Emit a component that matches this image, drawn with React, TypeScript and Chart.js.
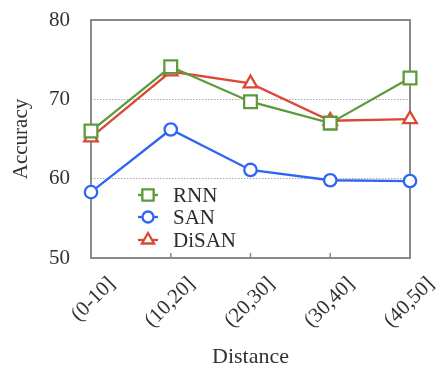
import React, { useEffect, useRef } from "react";
import { Chart, registerables } from "chart.js";

Chart.register(...registerables);

const categories = ["(0-10]", "(10,20]", "(20,30]", "(30,40]", "(40,50]"];
const rnnValues = [66.0, 74.1, 69.7, 67.0, 72.7];
const sanValues = [58.3, 66.2, 61.1, 59.8, 59.7];
const disanValues = [65.2, 73.5, 72.0, 67.3, 67.5];
const yTicks = [50, 60, 70, 80];
const seriesNames = ["RNN", "SAN", "DiSAN"];

const GREEN = "#5c9b3b";
const BLUE = "#3064f5";
const RED = "#dc4836";
const FONT = "'Liberation Serif', 'Times New Roman', serif";

function drawMarker(ctx: CanvasRenderingContext2D, style: string, x: number, y: number, r: number) {
  ctx.beginPath();
  if (style === "rect") {
    const s = Math.SQRT1_2 * r;
    ctx.rect(x - s, y - s, 2 * s, 2 * s);
  } else if (style === "circle") {
    ctx.arc(x, y, r, 0, Math.PI * 2);
  } else {
    const h = r;
    ctx.moveTo(x, y - h);
    ctx.lineTo(x + Math.sin(Math.PI / 3) * h, y + h / 2);
    ctx.lineTo(x - Math.sin(Math.PI / 3) * h, y + h / 2);
    ctx.closePath();
  }
  ctx.fill();
  ctx.stroke();
}

const framePlugin = {
  id: "frame",
  beforeDatasetsDraw(chart: any) {
    const { ctx, chartArea } = chart;
    const x = chart.scales.x;
    ctx.save();
    ctx.strokeStyle = "#8a8a8a";
    ctx.lineWidth = 2;
    ctx.strokeRect(chartArea.left, chartArea.top, chartArea.right - chartArea.left, chartArea.bottom - chartArea.top);
    ctx.lineWidth = 1.5;
    for (let i = 1; i < categories.length - 1; i++) {
      const px = x.getPixelForTick(i);
      ctx.beginPath();
      ctx.moveTo(px, chartArea.bottom);
      ctx.lineTo(px, chartArea.bottom - 5);
      ctx.stroke();
    }
    ctx.restore();
  },
};

const legendPlugin = {
  id: "innerLegend",
  afterDatasetsDraw(chart: any) {
    const { ctx, chartArea } = chart;
    const cx = chartArea.left + 57;
    const rows = [chartArea.bottom - 63, chartArea.bottom - 41, chartArea.bottom - 18];
    ctx.save();
    chart.data.datasets.forEach((ds: any, i: number) => {
      const y = rows[i];
      ctx.strokeStyle = ds.borderColor;
      ctx.lineWidth = 2.3;
      ctx.beginPath();
      ctx.moveTo(cx - 10, y);
      ctx.lineTo(cx + 10, y);
      ctx.stroke();
      ctx.fillStyle = "#ffffff";
      const r = ds.pointStyle === "rect" ? 8 : ds.pointStyle === "circle" ? 5.5 : 7;
      drawMarker(ctx, ds.pointStyle, cx, y, r);
      ctx.fillStyle = "#2b2b2b";
      ctx.font = `21px ${FONT}`;
      ctx.textBaseline = "middle";
      ctx.textAlign = "left";
      ctx.fillText(ds.label, cx + 25, y + 1);
    });
    ctx.restore();
  },
};

export default function App() {
  const canvasRef = useRef<HTMLCanvasElement | null>(null);

  useEffect(() => {
    document.body.style.margin = "0";
    const canvas = canvasRef.current;
    if (!canvas) return;
    const mk = (label: string, data: number[], color: string, style: string, r: number) => ({
      label,
      data,
      borderColor: color,
      backgroundColor: "#ffffff",
      pointBackgroundColor: "#ffffff",
      pointBorderColor: color,
      pointStyle: style,
      pointRadius: r,
      pointBorderWidth: 2.3,
      borderWidth: 2.3,
      tension: 0,
    });
    const chart = new Chart(canvas, {
      type: "line",
      data: {
        labels: categories,
        datasets: [
          mk(seriesNames[0], rnnValues, GREEN, "rect", 9),
          mk(seriesNames[1], sanValues, BLUE, "circle", 6.2),
          mk(seriesNames[2], disanValues, RED, "triangle", 7.8),
        ],
      },
      options: {
        animation: false,
        responsive: false,
        devicePixelRatio: 1,
        layout: { padding: { top: 20, right: 33, left: 0, bottom: 0 } },
        plugins: { legend: { display: false }, tooltip: { enabled: false } },
        scales: {
          x: {
            type: "category",
            offset: false,
            afterFit: (s: any) => {
              s.height = 108;
            },
            grid: { display: false, drawTicks: false },
            border: { display: false },
            ticks: {
              minRotation: 45,
              maxRotation: 45,
              autoSkip: false,
              labelOffset: 21,
              padding: 14,
              color: "#333333",
              font: { family: FONT, size: 21 },
            },
            title: {
              display: true,
              text: "Distance",
              color: "#333333",
              font: { family: FONT, size: 22, lineHeight: 0.8 },
              padding: { top: 0, bottom: 0 },
            },
          },
          y: {
            min: 50,
            max: 80,
            afterFit: (s: any) => {
              s.width = 91;
            },
            afterBuildTicks: (s: any) => {
              s.ticks = yTicks.map((v) => ({ value: v }));
            },
            grid: {
              drawTicks: true,
              tickLength: 21,
              tickColor: "rgba(0,0,0,0)",
              color: (c: any) => (c.tick && (c.tick.value === 60 || c.tick.value === 70) ? "#a8a8a8" : "rgba(0,0,0,0)"),
              lineWidth: 1,
            },
            border: { display: false, dash: [1.5, 1.5] },
            ticks: {
              padding: 0,
              color: "#333333",
              font: { family: FONT, size: 21 },
            },
            title: {
              display: true,
              text: "Accuracy",
              color: "#333333",
              font: { family: FONT, size: 21, lineHeight: 1.2 },
              padding: { top: 9, bottom: 0 },
            },
          },
        },
      },
      plugins: [framePlugin, legendPlugin],
    });
    return () => chart.destroy();
  }, []);

  return (
    <div style={{ width: 443, height: 366 }}>
      <canvas ref={canvasRef} width={443} height={366} />
    </div>
  );
}
